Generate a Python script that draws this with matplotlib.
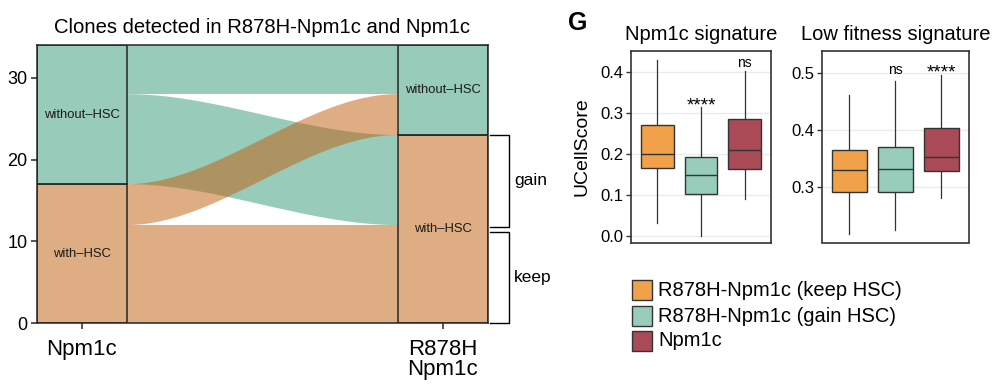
import numpy as np
import matplotlib
matplotlib.use("Agg")
import matplotlib.pyplot as plt
from matplotlib.patches import Rectangle, Polygon
import matplotlib.transforms as mtransforms

plt.rcParams['font.family'] = ['Liberation Sans', 'DejaVu Sans']

# ---------------- data ----------------
axis_labels = ["Npm1c", "R878H\nNpm1c"]
strata = ["with\u2013HSC", "without\u2013HSC"]
# flows: from stratum (Npm1c) -> to stratum (R878H-Npm1c)
flow_from = [0, 0, 1, 1]
flow_to = [0, 1, 0, 1]
flow_count = [12, 5, 11, 6]

bracket_labels = ["gain", "keep"]
bracket_lo = [11.8, 0.0]
bracket_hi = [23.0, 11.2]

groups = ["R878H-Npm1c (keep HSC)", "R878H-Npm1c (gain HSC)", "Npm1c"]

sig1_whislo = [0.030, 0.000, 0.090]
sig1_q1 = [0.164, 0.103, 0.163]
sig1_med = [0.200, 0.147, 0.209]
sig1_q3 = [0.271, 0.193, 0.285]
sig1_whishi = [0.428, 0.313, 0.401]
sig1_labels = ["", "****", "ns"]
sig1_label_y = [None, 0.333, 0.420]

sig2_whislo = [0.218, 0.224, 0.281]
sig2_q1 = [0.291, 0.291, 0.328]
sig2_med = [0.329, 0.331, 0.352]
sig2_q3 = [0.364, 0.370, 0.403]
sig2_whishi = [0.461, 0.485, 0.497]
sig2_labels = ["", "ns", "****"]
sig2_label_y = [None, 0.5035, 0.512]

# ---------------- styles ----------------
alluv_base = ["#C15D0B", "#339975"]   # with, without (drawn at alpha 0.5)
box_colors = ["#F1A14A", "#98CDBB", "#A94A56"]
dark = "#262626"

fig = plt.figure(figsize=(10, 3.88), dpi=100)

# ================= alluvial =================
ax = fig.add_axes([0.0367, 0.1668, 0.451, 0.7172])
sw = 0.25
x_pos = [1, 2]
ax.set_xlim(1 - sw / 2, 2 + sw / 2)
ax.set_ylim(0, 34)

n_str = len(strata)
left_tot = [sum(c for f, c in zip(flow_from, flow_count) if f == s) for s in range(n_str)]
right_tot = [sum(c for t, c in zip(flow_to, flow_count) if t == s) for s in range(n_str)]
left_start = np.concatenate([[0], np.cumsum(left_tot)[:-1]])
right_start = np.concatenate([[0], np.cumsum(right_tot)[:-1]])

order_left = sorted(range(len(flow_count)), key=lambda i: (flow_from[i], flow_to[i]))
order_right = sorted(range(len(flow_count)), key=lambda i: (flow_to[i], flow_from[i]))
lpos = {}
cur = {s: left_start[s] for s in range(n_str)}
for i in order_left:
    s = flow_from[i]
    lpos[i] = (cur[s], cur[s] + flow_count[i])
    cur[s] += flow_count[i]
rpos = {}
cur = {s: right_start[s] for s in range(n_str)}
for i in order_right:
    s = flow_to[i]
    rpos[i] = (cur[s], cur[s] + flow_count[i])
    cur[s] += flow_count[i]

x0, x1 = 1 + sw / 2, 2 - sw / 2
t = np.linspace(0, 1, 200)
ease = 3 * t ** 2 - 2 * t ** 3
xs = x0 + (x1 - x0) * t
draw_order = sorted(range(len(flow_count)), key=lambda i: -flow_from[i])
for i in draw_order:
    lo = lpos[i][0] + (rpos[i][0] - lpos[i][0]) * ease
    hi = lpos[i][1] + (rpos[i][1] - lpos[i][1]) * ease
    verts = np.concatenate([np.column_stack([xs, lo]), np.column_stack([xs[::-1], hi[::-1]])])
    col = matplotlib.colors.to_rgb(alluv_base[flow_from[i]])
    ax.add_patch(Polygon(verts, closed=True, facecolor=(*col, 0.5), edgecolor='none', zorder=1))

for xi, starts, tots in [(1, left_start, left_tot), (2, right_start, right_tot)]:
    for s in range(n_str):
        col = matplotlib.colors.to_rgb(alluv_base[s])
        ax.add_patch(Rectangle((xi - sw / 2, starts[s]), sw, tots[s],
                               facecolor=(*col, 0.5), edgecolor=dark, lw=1.1, zorder=2))
        ax.text(xi, starts[s] + tots[s] / 2, strata[s], ha='center', va='center',
                fontsize=9.4, color='#1a1a1a', zorder=3)

for sp in ax.spines.values():
    sp.set_color(dark)
    sp.set_linewidth(1.1)
    sp.set_zorder(4)
ax.set_yticks([0, 10, 20, 30])
ax.set_xticks(x_pos)
ax.set_xticklabels(axis_labels, fontsize=16, linespacing=0.95)
ax.tick_params(axis='y', labelsize=13, length=4.5, width=1.1, color=dark, pad=2)
ax.tick_params(axis='x', length=4.5, width=1.1, color=dark, pad=7)
ax.set_title("Clones detected in R878H-Npm1c and Npm1c", fontsize=14.6, pad=9)

# brackets
trans = mtransforms.blended_transform_factory(ax.transAxes, ax.transData)
bx0, bx1 = 1.005, 1.047
for lab, lo, hi in zip(bracket_labels, bracket_lo, bracket_hi):
    ax.plot([bx0, bx1, bx1, bx0], [hi, hi, lo, lo], color='black', lw=1.0,
            transform=trans, clip_on=False)
    ax.text(bx1 + 0.012, (lo + hi) / 2, lab, transform=trans, fontsize=12.5,
            ha='left', va='center')

# ================= boxplots =================
def draw_box(rect, whislo, q1, med, q3, whishi, ylim, yticks, title, labels, label_y):
    bax = fig.add_axes(rect)
    stats = []
    for a, b, c, d, e in zip(whislo, q1, med, q3, whishi):
        stats.append(dict(whislo=a, q1=b, med=c, q3=d, whishi=e, fliers=[]))
    res = bax.bxp(stats, positions=[1, 2, 3], widths=0.75, patch_artist=True,
                  showcaps=False, showfliers=False,
                  boxprops=dict(edgecolor='#333333', linewidth=1.0),
                  medianprops=dict(color='#333333', linewidth=1.0),
                  whiskerprops=dict(color='#333333', linewidth=0.9))
    for p, c in zip(res['boxes'], box_colors):
        p.set_facecolor(c)
        p.set_zorder(3)
    for m in res['medians']:
        m.set_zorder(4)
    bax.set_xlim(0.4, 3.6)
    bax.set_ylim(*ylim)
    bax.set_yticks(yticks)
    bax.set_yticklabels([f"{v:.1f}" for v in yticks])
    bax.set_xticks([])
    bax.grid(axis='y', color='#EBEBEB', lw=1.0, zorder=0)
    bax.set_axisbelow(True)
    for sp in bax.spines.values():
        sp.set_color('#333333')
        sp.set_linewidth(1.2)
    bax.tick_params(axis='y', labelsize=12, length=3.5, width=1.0, color='#333333', pad=2)
    bax.set_title(title, fontsize=14.5, pad=8)
    for xi, (lab, ly) in enumerate(zip(labels, label_y), start=1):
        if not lab:
            continue
        if '*' in lab:
            # asterisk glyph centre sits ~0.6 em above the baseline
            bax.annotate(lab, (xi, ly), xytext=(0, -8.0), textcoords='offset points',
                         ha='center', va='baseline', fontsize=13.5)
        else:
            bax.annotate(lab, (xi, ly), xytext=(0, -2.6), textcoords='offset points',
                         ha='center', va='baseline', fontsize=10)
    return bax

b1 = draw_box([0.631, 0.375, 0.140, 0.4923], sig1_whislo, sig1_q1, sig1_med, sig1_q3,
              sig1_whishi, (-0.0163, 0.449), [0.0, 0.1, 0.2, 0.3, 0.4],
              "Npm1c signature", sig1_labels, sig1_label_y)
b2 = draw_box([0.8217, 0.375, 0.1473, 0.4923], sig2_whislo, sig2_q1, sig2_med, sig2_q3,
              sig2_whishi, (0.2025, 0.5375), [0.3, 0.4, 0.5],
              "Low fitness signature", sig2_labels, sig2_label_y)

fig.text(0.5817, 1 - 147 / 388, "UCellScore", rotation=90, ha='center', va='center', fontsize=14)
fig.text(0.5775, 1 - 22.5 / 388, "G", ha='center', va='center', fontsize=18, fontweight='bold')

# legend
leg_y = [290, 316, 341]
for c, lab, yc in zip(box_colors, groups, leg_y):
    fig.patches.append(Rectangle((631.7 / 1000, 1 - (yc + 9.7) / 388), 20 / 1000, 19.4 / 388,
                                 facecolor=c, edgecolor='#333333', lw=1.0,
                                 transform=fig.transFigure, figure=fig))
    fig.text(658.3 / 1000, 1 - yc / 388, lab, ha='left', va='center', fontsize=14.5)

fig.savefig("out.png", dpi=100)
